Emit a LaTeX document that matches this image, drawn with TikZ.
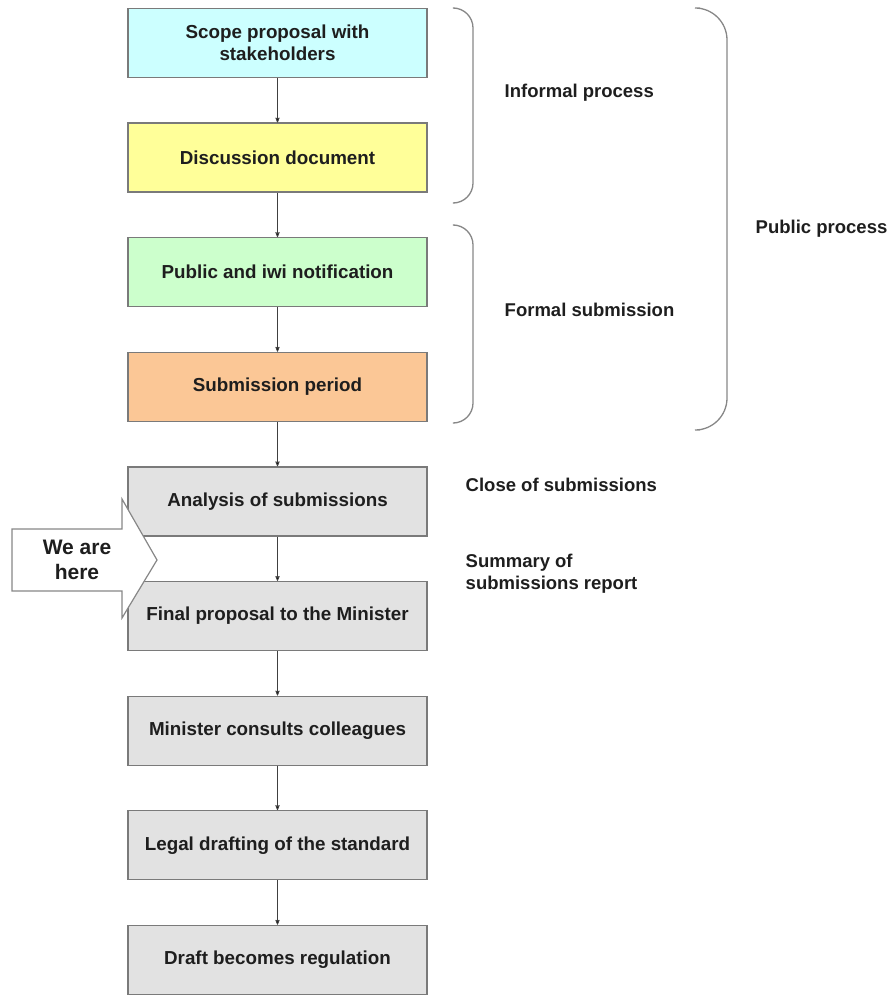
\documentclass[tikz,border=0pt]{standalone}
\usepackage{fontspec}
\setmainfont{Liberation Sans}
\usetikzlibrary{arrows,positioning}
\definecolor{scopefill}{HTML}{CCFFFF}
\definecolor{discfill}{HTML}{FFFF99}
\definecolor{notefill}{HTML}{CCFFCC}
\definecolor{subfill}{HTML}{FBC796}
\definecolor{greyfill}{HTML}{E2E2E2}
\definecolor{boxline}{HTML}{7A7A7A}
\definecolor{textcol}{HTML}{1E1E1E}

\begin{document}
\begin{tikzpicture}[x=1pt,y=-1pt,->,>=stealth',node distance=44.4pt,
	thick,step box/.style={rectangle,draw=boxline,line width=1.2pt,minimum width=299pt,
	minimum height=69pt,align=center,text=textcol,
	font=\bfseries\fontsize{18.8}{22}\selectfont},
	side label/.style={anchor=west,align=left,text=textcol,
	font=\bfseries\fontsize{18.5}{22}\selectfont},
	brace line/.style={-,draw=boxline!90,line width=1.3pt}]
	\useasboundingbox (0,0) rectangle (895,995);

	\node[step box,fill=scopefill] (scope) at (277.5,43) {Scope proposal with\\stakeholders};
	\node[step box,fill=discfill] (disc) [below=of scope] {Discussion document};
	\node[step box,fill=notefill] (notify) [below=of disc] {Public and iwi notification};
	\node[step box,fill=subfill] (period) [below=of notify] {Submission period};
	\node[step box,fill=greyfill] (analysis) [below=of period] {Analysis of submissions};
	\node[step box,fill=greyfill] (final) [below=of analysis] {Final proposal to the Minister};
	\node[step box,fill=greyfill] (consult) [below=of final] {Minister consults colleagues};
	\node[step box,fill=greyfill] (legal) [below=of consult] {Legal drafting of the standard};
	\node[step box,fill=greyfill] (draft) [below=of legal] {Draft becomes regulation};

	\path[draw=black!75,line width=0.8pt]
	(scope) edge (disc)
	(disc) edge (notify)
	(notify) edge (period)
	(period) edge (analysis)
	(analysis) edge (final)
	(final) edge (consult)
	(consult) edge (legal)
	(legal) edge (draft);

	% brackets on the right
	\draw[brace line,rounded corners=20pt] (455,8) -- (473,8) -- (473,203) -- (455,203);
	\draw[brace line,rounded corners=20pt] (455,225) -- (473,225) -- (473,423) -- (455,423);
	\draw[brace line,rounded corners=32pt] (700,8) -- (727,8) -- (727,430) -- (700,430);

	\node[side label] (informal) at (501,93) {Informal process};
	\node[side label] (formal) at (501,310) {Formal submission};
	\node[side label] (public) at (752,229) {Public process};
	\node[side label] (close) at (462,485) {Close of submissions};
	\node[side label] (summary) at (462,574) {Summary of\\submissions report};

	% we are here marker
	\draw[-,fill=white,draw=boxline!90,line width=1.2pt] (12,529) -- (122,529) -- (122,499)
	-- (157,560) -- (122,618) -- (122,591) -- (12,591) -- cycle;
	\node[align=center,text=textcol,font=\bfseries\fontsize{21}{25}\selectfont] (here) at (77,560) {We are\\here};

\end{tikzpicture}
\end{document}
